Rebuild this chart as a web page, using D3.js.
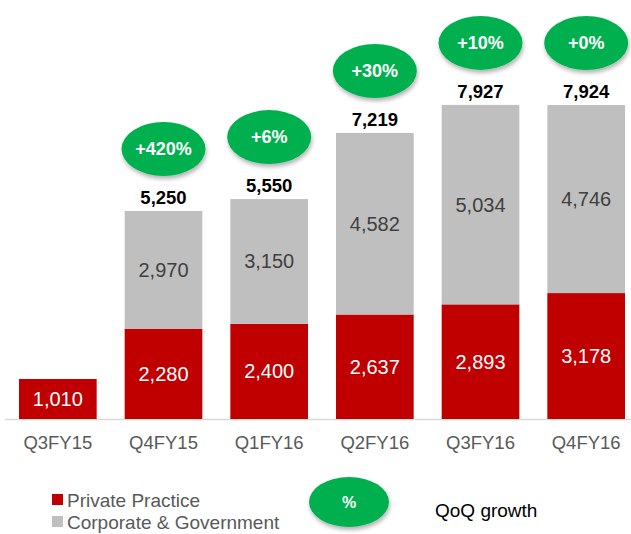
<!DOCTYPE html>
<html>
<head>
<meta charset="utf-8">
<script src="https://cdn.jsdelivr.net/npm/d3@7"></script>
<style>
  body { margin: 0; background: #fff; }
  text { font-family: "Liberation Sans", Arial, sans-serif; }
</style>
</head>
<body>
<div id="chart"></div>
<script>
const quarters = ["Q3FY15", "Q4FY15", "Q1FY16", "Q2FY16", "Q3FY16", "Q4FY16"];
const privatePractice = [1010, 2280, 2400, 2637, 2893, 3178];
const corporateGov = [0, 2970, 3150, 4582, 5034, 4746];
const totals = [1010, 5250, 5550, 7219, 7927, 7924];
const growth = [null, "+420%", "+6%", "+30%", "+10%", "+0%"];

const W = 631, H = 534;
const baseY = 419;

const svg = d3.select("#chart")
    .append("svg")
    .attr("width", W)
    .attr("height", H);

const defs = svg.append("defs");
const shadow = defs.append("filter").attr("id", "shadow")
    .attr("x", "-20%").attr("y", "-20%").attr("width", "150%").attr("height", "160%");
shadow.append("feDropShadow")
    .attr("dx", 1).attr("dy", 3).attr("stdDeviation", 2)
    .attr("flood-color", "#000").attr("flood-opacity", 0.3);

const x = d3.scaleBand()
    .domain(quarters)
    .range([5, 639])
    .paddingInner(0.265)
    .paddingOuter(0.1325);

const y = d3.scaleLinear()
    .domain([0, 8000])
    .range([baseY, 102]);

const fmt = d3.format(",");

const rows = quarters.map((q, i) => ({
    q, pp: privatePractice[i], cg: corporateGov[i], total: totals[i], growth: growth[i]
}));

// axis line
svg.append("line")
    .attr("x1", 5).attr("x2", 631)
    .attr("y1", baseY + 0.5).attr("y2", baseY + 0.5)
    .attr("stroke", "#d9d9d9")
    .attr("stroke-width", 1.5);

// red segments
svg.selectAll("rect.pp")
    .data(rows)
    .enter().append("rect")
    .attr("class", "pp")
    .attr("x", d => x(d.q))
    .attr("width", x.bandwidth())
    .attr("y", d => y(d.pp))
    .attr("height", d => y(0) - y(d.pp))
    .attr("fill", "#c00000");

// grey segments
svg.selectAll("rect.cg")
    .data(rows.filter(d => d.cg > 0))
    .enter().append("rect")
    .attr("class", "cg")
    .attr("x", d => x(d.q))
    .attr("width", x.bandwidth())
    .attr("y", d => y(d.pp + d.cg))
    .attr("height", d => y(d.pp) - y(d.pp + d.cg))
    .attr("fill", "#bfbfbf");

// segment labels
svg.selectAll("text.ppLabel")
    .data(rows)
    .enter().append("text")
    .attr("class", "ppLabel")
    .attr("x", d => x(d.q) + x.bandwidth() / 2)
    .attr("y", d => (y(0) + y(d.pp)) / 2 + 7)
    .attr("text-anchor", "middle")
    .attr("font-size", 20)
    .attr("fill", "#fff")
    .text(d => fmt(d.pp));

svg.selectAll("text.cgLabel")
    .data(rows.filter(d => d.cg > 0))
    .enter().append("text")
    .attr("class", "cgLabel")
    .attr("x", d => x(d.q) + x.bandwidth() / 2)
    .attr("y", d => (y(d.pp) + y(d.pp + d.cg)) / 2 + 7)
    .attr("text-anchor", "middle")
    .attr("font-size", 20)
    .attr("fill", "#404040")
    .text(d => fmt(d.cg));

// totals
svg.selectAll("text.total")
    .data(rows.filter(d => d.cg > 0))
    .enter().append("text")
    .attr("class", "total")
    .attr("x", d => x(d.q) + x.bandwidth() / 2)
    .attr("y", d => y(d.total) - 7)
    .attr("text-anchor", "middle")
    .attr("font-size", 18.5)
    .attr("font-weight", "bold")
    .attr("fill", "#000")
    .text(d => fmt(d.total));

// growth bubbles
const bubbles = svg.selectAll("g.bubble")
    .data(rows.filter(d => d.growth))
    .enter().append("g")
    .attr("class", "bubble")
    .attr("transform", d => `translate(${x(d.q) + x.bandwidth() / 2},${y(d.total) - 62})`);

bubbles.append("ellipse")
    .attr("rx", 42).attr("ry", 27)
    .attr("fill", "#00b050")
    .attr("filter", "url(#shadow)");

bubbles.append("text")
    .attr("y", 6)
    .attr("text-anchor", "middle")
    .attr("font-size", 18)
    .attr("font-weight", "bold")
    .attr("fill", "#fff")
    .text(d => d.growth);

// category labels
svg.selectAll("text.cat")
    .data(quarters)
    .enter().append("text")
    .attr("class", "cat")
    .attr("x", d => x(d) + x.bandwidth() / 2)
    .attr("y", 449)
    .attr("text-anchor", "middle")
    .attr("font-size", 18.5)
    .attr("fill", "#595959")
    .text(d => d);

// legend
const legendItems = [
    { label: "Private Practice", color: "#c00000" },
    { label: "Corporate & Government", color: "#bfbfbf" }
];
const legend = svg.selectAll("g.legend")
    .data(legendItems)
    .enter().append("g")
    .attr("class", "legend")
    .attr("transform", (d, i) => `translate(52,${494 + i * 22})`);

legend.append("rect")
    .attr("width", 11).attr("height", 11)
    .attr("fill", d => d.color);

legend.append("text")
    .attr("x", 15)
    .attr("y", 13)
    .attr("font-size", 19)
    .attr("fill", "#595959")
    .text(d => d.label);

const key = svg.append("g").attr("transform", "translate(349,502)");
key.append("ellipse")
    .attr("rx", 40).attr("ry", 25)
    .attr("fill", "#00b050")
    .attr("filter", "url(#shadow)");
key.append("text")
    .attr("y", 6)
    .attr("text-anchor", "middle")
    .attr("font-size", 16)
    .attr("font-weight", "bold")
    .attr("fill", "#fff")
    .text("%");

svg.append("text")
    .attr("x", 435)
    .attr("y", 517)
    .attr("font-size", 19)
    .attr("fill", "#000")
    .text("QoQ growth");
</script>
</body>
</html>
